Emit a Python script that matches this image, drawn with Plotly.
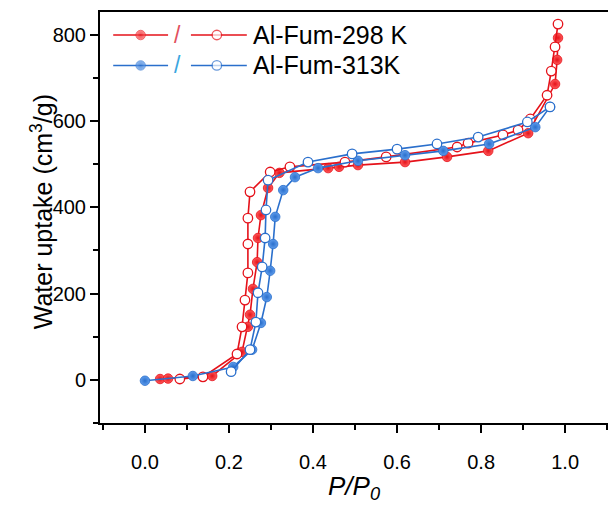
import plotly.graph_objects as go

# ---- isotherm data (P/P0, uptake in cm3/g) ----
p298_ads = [0.036, 0.055, 0.160, 0.231, 0.245, 0.250, 0.257, 0.267, 0.269, 0.276,
            0.293, 0.320, 0.436, 0.462, 0.507, 0.619, 0.719, 0.817, 0.912, 0.976,
            0.981, 0.983]
u298_ads = [2, 3, 9, 65, 123, 151, 211, 273, 329, 382,
            445, 480, 491, 494, 498, 505, 517, 531, 572, 686,
            742, 793]

p298_des = [0.983, 0.976, 0.967, 0.957, 0.917, 0.888, 0.852, 0.769, 0.743, 0.574,
            0.476, 0.345, 0.298, 0.250, 0.245, 0.245, 0.245, 0.238, 0.231, 0.219,
            0.138, 0.083]
u298_des = [825, 772, 716, 660, 605, 579, 568, 549, 540, 517,
            505, 494, 482, 436, 375, 315, 248, 185, 123, 60,
            7, 2]

p313_ads = [0.000, 0.114, 0.210, 0.255, 0.276, 0.290, 0.298, 0.305, 0.310, 0.329,
            0.357, 0.412, 0.507, 0.619, 0.710, 0.819, 0.929, 0.964]
u313_ads = [-2, 9, 30, 70, 132, 192, 253, 315, 378, 440,
            470, 491, 508, 521, 531, 547, 586, 633]

p313_des = [0.964, 0.910, 0.793, 0.695, 0.600, 0.493, 0.388, 0.293, 0.288, 0.286,
            0.279, 0.269, 0.264, 0.250, 0.205]
u313_des = [633, 598, 563, 547, 535, 524, 505, 463, 394, 329,
            262, 202, 134, 70, 19]

x_ticks = [0.0, 0.2, 0.4, 0.6, 0.8, 1.0]
x_ticktext = ["0.0", "0.2", "0.4", "0.6", "0.8", "1.0"]
y_ticks = [0, 200, 400, 600, 800]

series_labels = ["Al-Fum-298 K", "Al-Fum-313K"]

# ---- styling ----
RED = "#E5121A"
RED_LIGHT = "#FF5A5A"
BLUE = "#2A6FCC"
BLUE_LIGHT = "#5E9CEC"
SLASH_COLORS = ["#E2505E", "#3AA6E0"]
FONT = "Liberation Sans, Arial, sans-serif"
MS = 9.5


def filled(color, light):
    return dict(size=MS, color=light, symbol="circle",
                gradient=dict(type="radial", color=color),
                line=dict(color=color, width=0.8))


def hollow(color):
    return dict(size=MS, color="white", symbol="circle",
                line=dict(color=color, width=1.3))


fig = go.Figure()

curves = [
    (p298_ads, u298_ads, RED, filled(RED, RED_LIGHT)),
    (p298_des, u298_des, RED, hollow(RED)),
    (p313_ads, u313_ads, BLUE, filled(BLUE, BLUE_LIGHT)),
    (p313_des, u313_des, BLUE, hollow(BLUE)),
]
for xs, ys, col, mk in curves:
    fig.add_trace(go.Scatter(x=xs, y=ys, mode="lines+markers",
                             line=dict(color=col, width=1.6),
                             marker=mk, showlegend=False, cliponaxis=False))

# ---- custom legend on an overlay axis (fractions of the plot area) ----
leg_rows = [0.944, 0.870]
leg_sample_a = (0.026, 0.080, 0.134)   # line start, marker, line end
leg_sample_b = (0.179, 0.230, 0.289)
leg_slash_x = 0.1535
leg_text_x = 0.297
leg_styles = [(RED, filled(RED, RED_LIGHT), hollow(RED)),
              (BLUE, filled(BLUE, BLUE_LIGHT), hollow(BLUE))]

for row_y, (col, mk_f, mk_o) in zip(leg_rows, leg_styles):
    for sample, mk in ((leg_sample_a, mk_f), (leg_sample_b, mk_o)):
        m = dict(mk)
        m["size"] = [0, MS, 0]
        fig.add_trace(go.Scatter(x=list(sample), y=[row_y] * 3,
                                 mode="lines+markers",
                                 line=dict(color=col, width=1.6),
                                 marker=m, xaxis="x2", yaxis="y2",
                                 showlegend=False, hoverinfo="skip"))

annotations = []
for row_y, label, scol in zip(leg_rows, series_labels, SLASH_COLORS):
    annotations.append(dict(xref="x2", yref="y2", x=leg_slash_x, y=row_y,
                            text="/", showarrow=False, xanchor="center",
                            yanchor="middle",
                            font=dict(family=FONT, size=23, color=scol)))
    annotations.append(dict(xref="x2", yref="y2", x=leg_text_x, y=row_y,
                            text=label, showarrow=False, xanchor="left",
                            yanchor="middle",
                            font=dict(family=FONT, size=25, color="black")))

# axis titles
annotations.append(dict(xref="paper", yref="paper", x=-0.114, y=0.513,
                        text="Water uptake (cm<sup>3</sup>/g)", textangle=-90,
                        showarrow=False, xanchor="center", yanchor="middle",
                        font=dict(family=FONT, size=25, color="black")))
annotations.append(dict(xref="paper", yref="paper", x=0.50, y=-0.158,
                        text="<i>P/P</i><sub><i>0</i></sub>",
                        showarrow=False, xanchor="center", yanchor="middle",
                        font=dict(family=FONT, size=26, color="black")))

axis_common = dict(showline=True, linecolor="black", linewidth=2,
                   ticks="outside", ticklen=8, tickwidth=2, tickcolor="black",
                   showgrid=False, zeroline=False,
                   tickfont=dict(family=FONT, size=20, color="black"))

fig.update_layout(
    width=608, height=508,
    margin=dict(l=100, r=0, t=12, b=85, autoexpand=False),
    paper_bgcolor="white", plot_bgcolor="white",
    showlegend=False,
    xaxis=dict(range=[-0.107, 1.102], tickvals=x_ticks, ticktext=x_ticktext,
               mirror=True, ticklabelstandoff=12,
               minor=dict(ticks="outside", ticklen=5, tickwidth=2,
                          tickcolor="black", dtick=0.1, tick0=0),
               **axis_common),
    yaxis=dict(range=[-100, 853], tickvals=y_ticks, mirror=False,
               minor=dict(ticks="outside", ticklen=5, tickwidth=2,
                          tickcolor="black", dtick=100, tick0=0),
               **axis_common),
    xaxis2=dict(overlaying="x", range=[0, 1], visible=False, anchor="y2"),
    yaxis2=dict(overlaying="y", range=[0, 1], visible=False, anchor="x2"),
    annotations=annotations,
)

fig.write_html("out.html")
